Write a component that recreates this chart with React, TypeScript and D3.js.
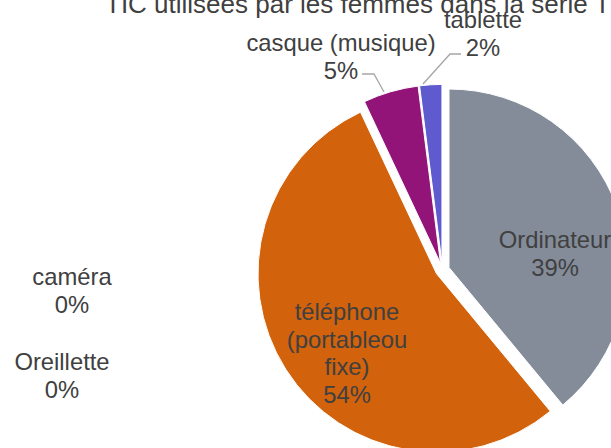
import React from "react";
import * as d3 from "d3";

const categories = ["Ordinateur", "téléphone (portableou fixe)", "caméra", "Oreillette", "casque (musique)", "tablette"];
const values = [39, 54, 0, 0, 5, 2];
const colors = ["#848C9A", "#D2620B", "#A0A0A0", "#A0A0A0", "#921478", "#5F5BCE"];
const labelLines = [
  ["Ordinateur", "39%"],
  ["téléphone", "(portableou", "fixe)", "54%"],
  ["caméra", "0%"],
  ["Oreillette", "0%"],
  ["casque (musique)", "5%"],
  ["tablette", "2%"],
];
const title = "TIC utilisées par les femmes dans la série TV";

const W = 611, H = 448;
const cx = 442.4, cy = 269.9, R = 178.5, explode = 7;
const fontSize = 23.8, lineH = 27.7;
const textColor = "#404040";
// label layout: center x, first baseline y
const labelPos = [
  [555, 248],
  [347, 320],
  [72, 285],
  [62, 370],
  [341, 51],
  [483, 28],
];

export default function App() {
  const pie = d3.pie<number>().sort(null).value((d) => d).startAngle(0).endAngle(2 * Math.PI);
  const arcs = pie(values);
  const arc = d3.arc<d3.PieArcDatum<number>>().innerRadius(0).outerRadius(R);

  return (
    <svg width={W} height={H} style={{ position: "absolute", left: 0, top: 0, background: "#fff" }}
      fontFamily="'Liberation Sans', Arial, sans-serif">
      <text x={105} y={13} fontSize={26} fill={textColor}>{title}</text>
      <g transform={`translate(${cx},${cy})`}>
        {arcs.map((a, i) => {
          if (a.endAngle - a.startAngle <= 0) return null;
          const mid = (a.startAngle + a.endAngle) / 2;
          const dx = Math.sin(mid) * explode, dy = -Math.cos(mid) * explode;
          return (
            <path key={i} d={arc(a) || ""} transform={`translate(${dx},${dy})`} fill={colors[i]}
              stroke="#fff" strokeWidth={1} />
          );
        })}
      </g>
      {/* leader lines */}
      <polyline points="362,74 374,74 384,92" fill="none" stroke="#A6A6A6" strokeWidth={1.3} />
      <polyline points="423,84 450,54 461,54" fill="none" stroke="#A6A6A6" strokeWidth={1.3} />
      {labelLines.map((lines, i) => (
        <text key={i} fontSize={fontSize} fill={textColor} textAnchor="middle">
          {lines.map((l, j) => (
            <tspan key={j} x={labelPos[i][0]} y={labelPos[i][1] + j * lineH}>{l}</tspan>
          ))}
        </text>
      ))}
    </svg>
  );
}
